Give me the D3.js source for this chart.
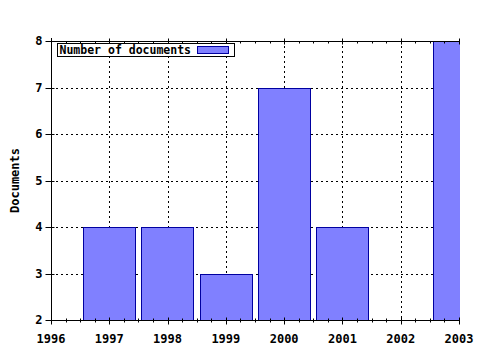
<!DOCTYPE html>
<html lang="en">
<head>
<meta charset="UTF-8">
<title>Number of documents</title>
<script src="https://d3js.org/d3.v7.min.js"></script>
<style>
  body { margin: 0; background: #fff; }
  svg { display: block; background: #fff; }
  text { font-family: 'DejaVu Sans Mono', monospace; font-weight: bold; font-size: 12px; fill: #000; }
  .legend text { font-size: 11.5px; }
  .grid line { stroke: #000; stroke-width: 1; stroke-dasharray: 2, 3; }
  .bar { fill: #8080ff; stroke: #0000a0; stroke-width: 1; }
</style>
</head>
<body>
<svg width="480" height="350"></svg>
<script>
const years = [1997, 1998, 1999, 2000, 2001, 2003];
const documents = [4, 4, 3, 7, 4, 8];
const xTicks = [1996, 1997, 1998, 1999, 2000, 2001, 2002, 2003];
const yTicks = [2, 3, 4, 5, 6, 7, 8];
const seriesName = "Number of documents";

const svg = d3.select("svg");
const margin = {top: 41, right: 21, bottom: 30, left: 51};
const W = 480, H = 350;

const x = d3.scaleLinear().domain([1996, 2003]).range([margin.left, W - margin.right]);
const y = d3.scaleLinear().domain([2, 8]).range([H - margin.bottom, margin.top]);

svg.append("clipPath").attr("id", "plot")
  .append("rect")
    .attr("x", margin.left).attr("y", margin.top)
    .attr("width", x(2003) - x(1996) + 1).attr("height", y(2) - y(8));

// grid
const grid = svg.append("g").attr("class", "grid");
grid.selectAll(".v").data(xTicks.slice(1, -1)).join("line")
  .attr("x1", d => Math.round(x(d)) + 0.5).attr("x2", d => Math.round(x(d)) + 0.5)
  .attr("y1", y(8)).attr("y2", y(2));
grid.selectAll(".h").data(yTicks.slice(1, -1)).join("line")
  .attr("x1", x(1996)).attr("x2", x(2003))
  .attr("y1", d => Math.round(y(d)) + 0.5).attr("y2", d => Math.round(y(d)) + 0.5);

// bars
const half = 0.45;
svg.append("g").attr("clip-path", "url(#plot)")
  .selectAll("rect").data(years).join("rect")
    .attr("class", "bar")
    .attr("x", d => Math.round(x(d - half)) + 0.5)
    .attr("width", d => Math.round(x(d + half) - x(d - half)))
    .attr("y", (d, i) => Math.round(y(documents[i])) + 0.5)
    .attr("height", (d, i) => Math.round(y(2) - y(documents[i])));

// axes
const minor = d3.range(1996, 2003.01, 0.25);
const bottomAxis = svg.append("g").attr("transform", `translate(0,${Math.round(y(2)) + 0.5})`);
bottomAxis.append("line").attr("x1", x(1996)).attr("x2", x(2003)).attr("stroke", "#000");
bottomAxis.selectAll("line.mt").data(minor).join("line")
  .attr("class", "mt")
  .attr("x1", d => Math.round(x(d)) + 0.5).attr("x2", d => Math.round(x(d)) + 0.5)
  .attr("y1", d => Number.isInteger(d) ? -3 : -2).attr("y2", d => Number.isInteger(d) ? 4 : 2)
  .attr("stroke", "#000");
bottomAxis.selectAll("text").data(xTicks).join("text")
  .attr("x", d => x(d)).attr("y", 22)
  .attr("text-anchor", "middle")
  .text(d => d);

const topAxis = svg.append("g").attr("transform", `translate(0,${Math.round(y(8)) + 0.5})`);
topAxis.append("line").attr("x1", x(1996)).attr("x2", x(2003)).attr("stroke", "#000");
topAxis.selectAll("line.mt").data(minor).join("line")
  .attr("class", "mt")
  .attr("x1", d => Math.round(x(d)) + 0.5).attr("x2", d => Math.round(x(d)) + 0.5)
  .attr("y1", d => Number.isInteger(d) ? -3 : 0).attr("y2", d => Number.isInteger(d) ? 3 : 2)
  .attr("stroke", "#000");

const leftAxis = svg.append("g").attr("transform", `translate(${Math.round(x(1996)) + 0.5},0)`);
leftAxis.append("line").attr("y1", y(8) - 3).attr("y2", y(2) + 3).attr("stroke", "#000");
leftAxis.selectAll("line.t").data(yTicks).join("line")
  .attr("class", "t")
  .attr("x1", -6).attr("x2", 3)
  .attr("y1", d => Math.round(y(d)) + 0.5).attr("y2", d => Math.round(y(d)) + 0.5)
  .attr("stroke", "#000");
leftAxis.selectAll("text").data(yTicks).join("text")
  .attr("x", -9).attr("y", d => y(d) + 4)
  .attr("text-anchor", "end")
  .text(d => d);

svg.append("text")
  .attr("transform", `translate(19,${(y(2) + y(8)) / 2}) rotate(-90)`)
  .attr("text-anchor", "middle")
  .text("Documents");

// legend
const lg = svg.append("g").attr("class", "legend").attr("transform", "translate(57.5,43.5)");
lg.append("rect").attr("width", 177).attr("height", 13).attr("fill", "#fff").attr("stroke", "#000");
lg.append("text").attr("x", 2).attr("y", 10.5).text(seriesName);
lg.append("rect").attr("class", "bar").attr("x", 140).attr("y", 3).attr("width", 31).attr("height", 7);
</script>
</body>
</html>
